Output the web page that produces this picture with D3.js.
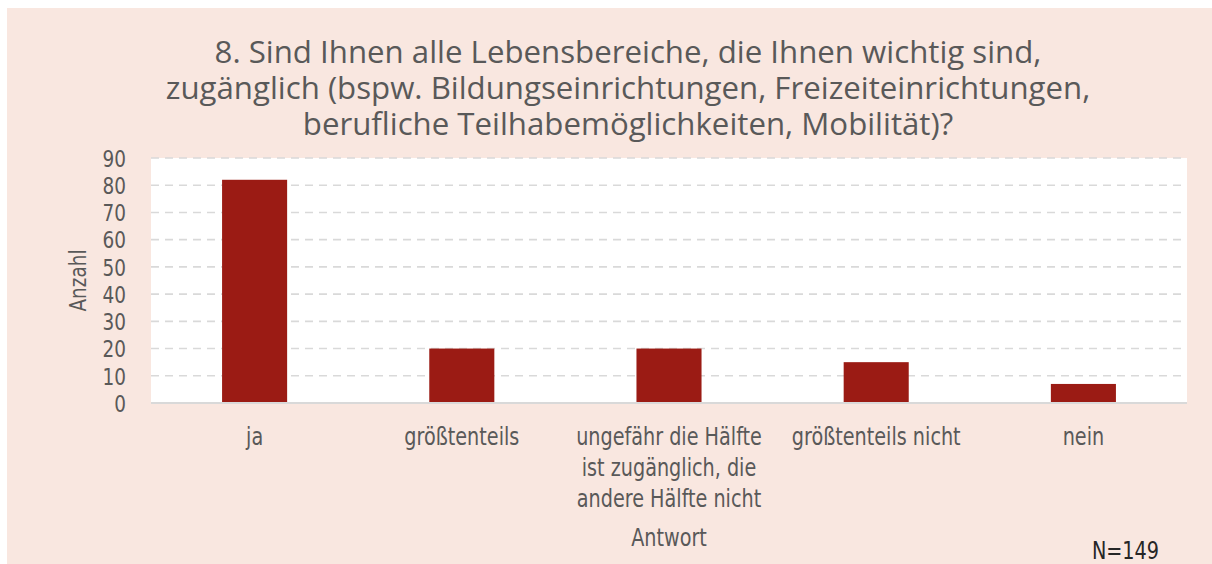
<!DOCTYPE html>
<html>
<head>
<meta charset="utf-8">
<script src="https://cdn.jsdelivr.net/npm/d3@7"></script>
<style>
  html, body { margin: 0; padding: 0; background: #ffffff; }
  svg { display: block; }
  .narrow { font-family: 'DejaVu Sans', sans-serif; font-stretch: condensed; }
</style>
</head>
<body>
<svg id="chart" width="1212" height="564"></svg>
<script>
// ---- data ----
const categories = [
  "ja",
  "größtenteils",
  "ungefähr die Hälfte ist zugänglich, die andere Hälfte nicht",
  "größtenteils nicht",
  "nein"
];
const values = [82, 20, 20, 15, 7];
const yTicks = [0, 10, 20, 30, 40, 50, 60, 70, 80, 90];
const titleLines = [
  "8. Sind Ihnen alle Lebensbereiche, die Ihnen wichtig sind,",
  "zugänglich (bspw. Bildungseinrichtungen, Freizeiteinrichtungen,",
  "berufliche Teilhabemöglichkeiten, Mobilität)?"
];
const yAxisTitle = "Anzahl";
const xAxisTitle = "Antwort";
const noteText = "N=149";

// ---- style ----
const bg = "#F9E7E0";
const barColor = "#9B1B14";
const textColor = "#595959";
const gridColor = "#D9D9D9";
const titleFont = "'Open Sans', 'Noto Sans', sans-serif";
const squeeze = 0.89; // horizontal condensation for the narrow label font

const svg = d3.select("#chart");
svg.append("rect").attr("x", 7).attr("y", 8).attr("width", 1205).attr("height", 556).attr("fill", bg);

const plot = { left: 151, right: 1187, top: 158, bottom: 403 };
svg.append("rect")
  .attr("x", plot.left).attr("y", plot.top)
  .attr("width", plot.right - plot.left).attr("height", plot.bottom - plot.top)
  .attr("fill", "#ffffff");

const x = d3.scaleBand().domain(categories)
  .range([plot.left, plot.right])
  .paddingInner(0.686).paddingOuter(0.343);
const y = d3.scaleLinear().domain([0, 90]).range([plot.bottom, plot.top]);

// gridlines
svg.append("g").selectAll("line").data(yTicks.filter(d => d > 0)).join("line")
  .attr("x1", plot.left).attr("x2", plot.right - 5)
  .attr("y1", d => y(d)).attr("y2", d => y(d))
  .attr("stroke", gridColor).attr("stroke-width", 1.6)
  .attr("stroke-dasharray", "8,6");

// bars
svg.append("g").selectAll("rect").data(values).join("rect")
  .attr("x", (d, i) => x(categories[i]))
  .attr("width", x.bandwidth())
  .attr("y", d => y(d))
  .attr("height", d => y(0) - y(d))
  .attr("fill", barColor);

// x axis line
svg.append("line")
  .attr("x1", plot.left).attr("x2", plot.right)
  .attr("y1", plot.bottom).attr("y2", plot.bottom)
  .attr("stroke", gridColor).attr("stroke-width", 2);

// y axis
const yAxis = d3.axisLeft(y).tickValues(yTicks).tickSize(0).tickPadding(0);
const yg = svg.append("g").attr("transform", `translate(126,0)`).call(yAxis);
yg.select(".domain").remove();
yg.selectAll("text")
  .attr("class", "narrow").attr("font-family", null).attr("font-size", 23)
  .attr("fill", textColor).attr("dy", "0.36em")
  .attr("transform", `scale(${squeeze},1)`);

// x axis labels (wrapped by character count)
const xAxis = d3.axisBottom(x).tickSize(0).tickPadding(0).tickFormat("");
const xg = svg.append("g").attr("transform", `translate(0,${plot.bottom})`).call(xAxis);
xg.select(".domain").remove();

function wrapLines(text, maxChars) {
  const words = text.split(" ");
  const lines = [];
  let cur = "";
  for (const w of words) {
    const test = cur ? cur + " " + w : w;
    if (test.length > maxChars && cur) { lines.push(cur); cur = w; }
    else cur = test;
  }
  if (cur) lines.push(cur);
  return lines;
}
const catSize = 24;
xg.selectAll(".tick").each(function(d) {
  const lines = wrapLines(d, 19);
  const t = d3.select(this).append("text")
    .attr("class", "narrow")
    .attr("text-anchor", "middle")
    .attr("font-size", catSize)
    .attr("fill", textColor)
    .attr("transform", `scale(${squeeze},1)`);
  lines.forEach((ln, k) => {
    t.append("tspan").attr("x", 0).attr("y", 42.5 + k * 30.7).text(ln);
  });
});

// axis titles
svg.append("text")
  .attr("class", "narrow")
  .attr("transform", `translate(86,${(plot.top + plot.bottom) / 2}) rotate(-90) scale(${squeeze},1)`)
  .attr("text-anchor", "middle")
  .attr("font-size", 23)
  .attr("fill", textColor).text(yAxisTitle);

svg.append("text")
  .attr("class", "narrow")
  .attr("transform", `translate(${(plot.left + plot.right) / 2},545.5) scale(${squeeze},1)`)
  .attr("text-anchor", "middle")
  .attr("font-size", 24)
  .attr("fill", textColor).text(xAxisTitle);

// N note
svg.append("text")
  .attr("class", "narrow")
  .attr("transform", `translate(1159,559) scale(${squeeze},1)`)
  .attr("text-anchor", "end")
  .attr("font-size", 24)
  .attr("fill", "#262626").text(noteText);

// title
const title = svg.append("text")
  .attr("text-anchor", "middle")
  .attr("font-family", titleFont).attr("font-size", 30)
  .attr("fill", textColor);
titleLines.forEach((ln, k) => {
  title.append("tspan").attr("x", 628).attr("y", 62.5 + k * 36).text(ln);
});
// fit title size so line 1 spans the same width as in the reference
const w1 = title.select("tspan").node().getComputedTextLength();
title.attr("font-size", 30 * 827 / w1);
</script>
</body>
</html>
